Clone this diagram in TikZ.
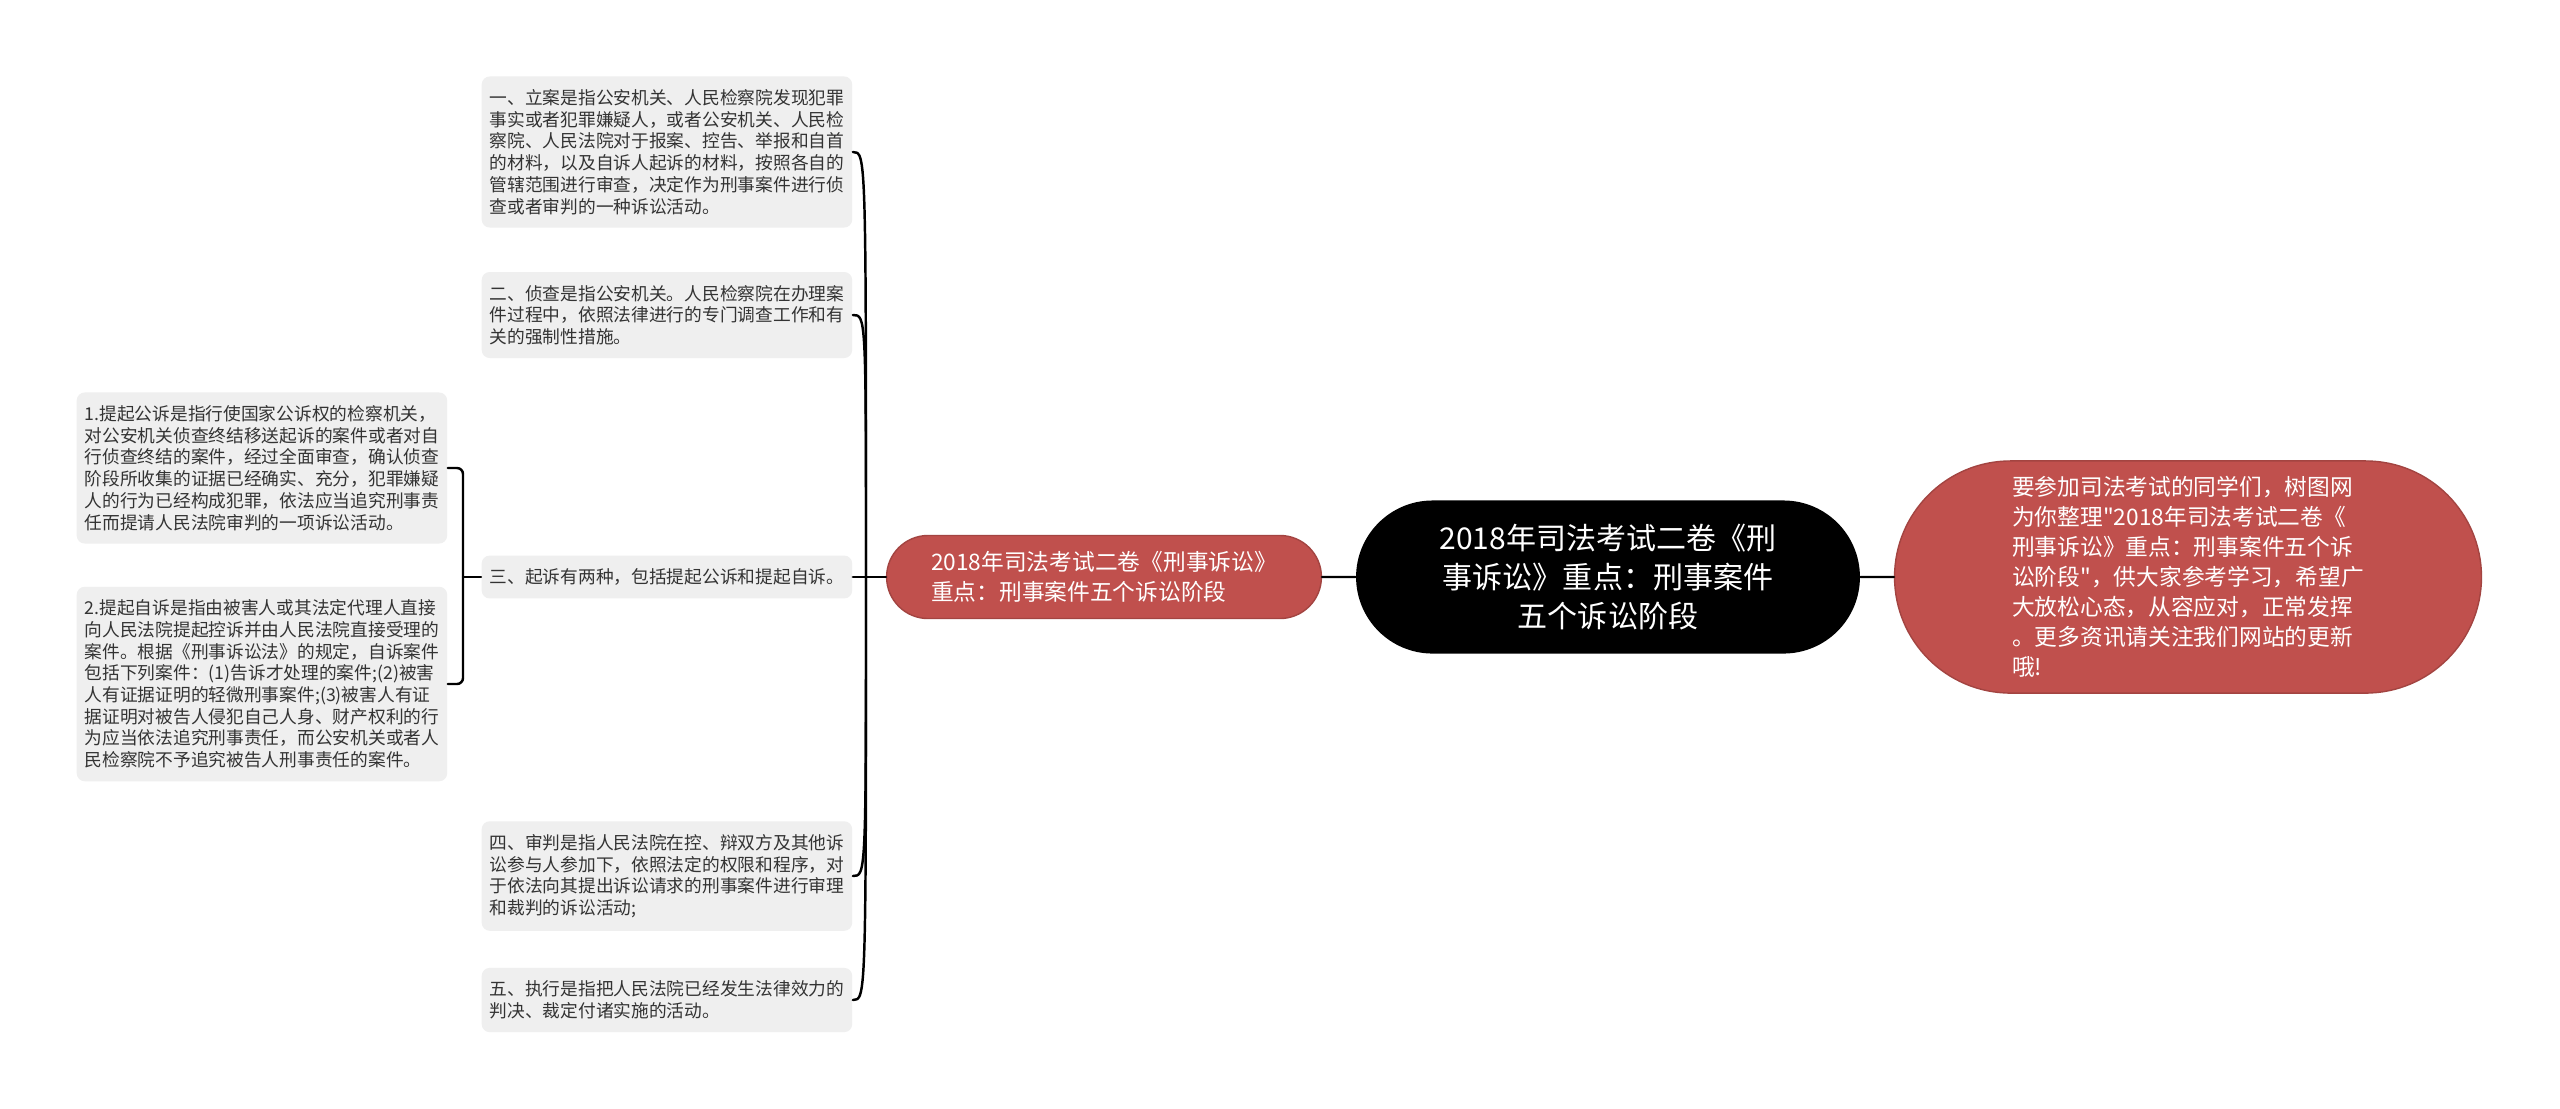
\documentclass[tikz,border=0pt]{standalone}
\usepackage{fontspec}
\setmainfont{Noto Sans CJK SC}[Ligatures=TeXOff]
\usetikzlibrary{shapes.misc}
\definecolor{leafgray}{HTML}{EFEFEF}
\definecolor{branchred}{HTML}{C0504D}
\begin{document}
\begin{tikzpicture}[x=0.01cm, y=-0.01cm, line join=round, line cap=round,
	leaf/.style={fill=leafgray, rounded corners=0.08cm, align=left, text=black!80, inner xsep=0.08cm, inner ysep=0.13cm, anchor=west, font=\fontsize{5.04}{6.17}\selectfont},
	branch/.style={rounded rectangle, fill=branchred, draw=branchred!85!black, text=white, align=left, font=\fontsize{6.46}{8.54}\selectfont},
	topic/.style={rounded rectangle, fill=black, text=white, align=center, minimum width=5.27cm, minimum height=1.53cm, font=\fontsize{8.54}{11.1}\selectfont},
	link/.style={line width=0.7pt}]
		\fill[white] (0,0) rectangle (2560,1108);
		\useasboundingbox (0,0) rectangle (2560,1108);
		% centre
		\node[topic] (topic) at (1608,577) {2018年司法考试二卷《刑\\事诉讼》重点：刑事案件\\五个诉讼阶段};
		\node[branch, minimum width=6.1cm, minimum height=2.32cm] (note) at (2188,577) {要参加司法考试的同学们，树图网\\为你整理"2018年司法考试二卷《\\刑事诉讼》重点：刑事案件五个诉\\讼阶段"，供大家参考学习，希望广\\大放松心态，从容应对，正常发挥\\。更多资讯请关注我们网站的更新\\哦!};
		\node[branch, minimum width=4.58cm, minimum height=0.83cm] (stage) at (1104,577) {2018年司法考试二卷《刑事诉讼》\\重点：刑事案件五个诉讼阶段};
		% five stages
		\node[leaf] (b1) at (481,152) {一、立案是指公安机关、人民检察院发现犯罪\\事实或者犯罪嫌疑人，或者公安机关、人民检\\察院、人民法院对于报案、控告、举报和自首\\的材料，以及自诉人起诉的材料，按照各自的\\管辖范围进行审查，决定作为刑事案件进行侦\\查或者审判的一种诉讼活动。};
		\node[leaf] (b2) at (481,315) {二、侦查是指公安机关。人民检察院在办理案\\件过程中，依照法律进行的专门调查工作和有\\关的强制性措施。};
		\node[leaf] (b3) at (481,577) {三、起诉有两种，包括提起公诉和提起自诉。};
		\node[leaf] (b4) at (481,876) {四、审判是指人民法院在控、辩双方及其他诉\\讼参与人参加下，依照法定的权限和程序，对\\于依法向其提出诉讼请求的刑事案件进行审理\\和裁判的诉讼活动;};
		\node[leaf] (b5) at (481,1000) {五、执行是指把人民法院已经发生法律效力的\\判决、裁定付诸实施的活动。};
		% two kinds of prosecution
		\node[leaf] (s1) at (76,468) {1.提起公诉是指行使国家公诉权的检察机关，\\对公安机关侦查终结移送起诉的案件或者对自\\行侦查终结的案件，经过全面审查，确认侦查\\阶段所收集的证据已经确实、充分，犯罪嫌疑\\人的行为已经构成犯罪，依法应当追究刑事责\\任而提请人民法院审判的一项诉讼活动。};
		\node[leaf] (s2) at (76,684) {2.提起自诉是指由被害人或其法定代理人直接\\向人民法院提起控诉并由人民法院直接受理的\\案件。根据《刑事诉讼法》的规定，自诉案件\\包括下列案件：(1)告诉才处理的案件;(2)被害\\人有证据证明的轻微刑事案件;(3)被害人有证\\据证明对被告人侵犯自己人身、财产权利的行\\为应当依法追究刑事责任，而公安机关或者人\\民检察院不予追究被告人刑事责任的案件。};
		\coordinate (fork) at (866,577);
		\coordinate (pair) at (463,577);
		\draw[link] (topic) -- (note);
		\draw[link] (topic) -- (stage);
		\draw[link] (stage.west) -- (b3.east);
		\foreach \n in {b1,b2,b4,b5}
		\draw[link] (fork) .. controls (fork |- \n.east) .. (\n.east);
		\draw[link] (b3.west) -- (pair);
		\draw[link, rounded corners=0.06cm] (s1.east) -| (pair) |- (s2.east);
\end{tikzpicture}
\end{document}
